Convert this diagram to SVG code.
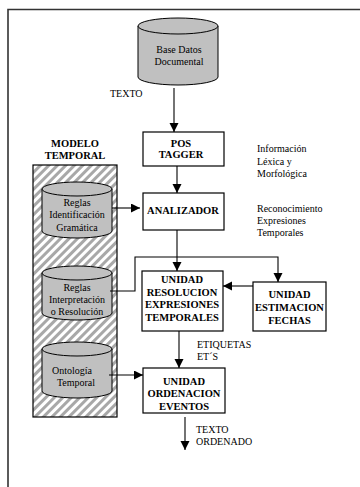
<svg xmlns="http://www.w3.org/2000/svg" width="360" height="487" viewBox="0 0 360 487">
<style>
text{font-family:"Liberation Serif","Times New Roman",serif;font-size:10px;fill:#000}
.b{font-weight:bold;font-size:10.5px}
.m{text-anchor:middle}
.box{fill:#fff;stroke:#000;stroke-width:1.2}
.cyl{fill:#c0c0c0;stroke:#000;stroke-width:1}
.con{fill:none;stroke:#000;stroke-width:1.1}
</style>
<defs>
<marker id="ah" markerUnits="userSpaceOnUse" markerWidth="10" markerHeight="10" refX="9" refY="4.5" orient="auto">
<path d="M0,0 L9,4.5 L0,9 Z" fill="#000"/>
</marker>
<pattern id="hatch" patternUnits="userSpaceOnUse" width="6" height="6" patternTransform="rotate(45)">
<rect width="6" height="6" fill="#fff"/>
<line x1="1.5" y1="0" x2="1.5" y2="6" stroke="#a8a8a8" stroke-width="3"/>
</pattern>
</defs>
<path d="M8,487 V9.5 H360" fill="none" stroke="#333" stroke-width="1.6"/>

<g id="modelo">
<rect x="33" y="165" width="84" height="252" fill="url(#hatch)" stroke="#000" stroke-width="1.2"/>
<text class="b m" x="75" y="147">MODELO</text>
<text class="b m" x="75" y="159">TEMPORAL</text>
</g>

<g id="base-datos">
<path class="cyl" d="M138,26 V77 A40,8 0 0 0 218,77 V26"/>
<ellipse class="cyl" cx="178" cy="26" rx="40" ry="8"/>
<text class="m" x="179" y="53">Base Datos</text>
<text class="m" x="179" y="65">Documental</text>
</g>

<g id="reglas-identificacion">
<path class="cyl" d="M42,189 V231 A35,7 0 0 0 112,231 V189"/>
<ellipse class="cyl" cx="77" cy="189" rx="35" ry="7"/>
<text class="m" x="77" y="206">Reglas</text>
<text class="m" x="77" y="218">Identificación</text>
<text class="m" x="77" y="231">Gramática</text>
</g>

<g id="reglas-interpretacion">
<path class="cyl" d="M42,273 V313 A35,7 0 0 0 112,313 V273"/>
<ellipse class="cyl" cx="77" cy="273" rx="35" ry="7"/>
<text class="m" x="77" y="291">Reglas</text>
<text class="m" x="77" y="303">Interpretación</text>
<text class="m" x="77" y="315">o Resolución</text>
</g>

<g id="ontologia">
<path class="cyl" d="M42,349 V391 A35,7 0 0 0 112,391 V349"/>
<ellipse class="cyl" cx="77" cy="349" rx="35" ry="7"/>
<text class="m" x="72" y="374">Ontología</text>
<text class="m" x="76" y="386">Temporal</text>
</g>

<g id="pos-tagger">
<rect class="box" x="143" y="132" width="81" height="34"/>
<text class="b m" x="181" y="147">POS</text>
<text class="b m" x="181" y="158">TAGGER</text>
</g>

<g id="analizador">
<rect class="box" x="143" y="193" width="81" height="37"/>
<text class="b m" x="183" y="214">ANALIZADOR</text>
</g>

<g id="resolucion">
<rect class="box" x="142" y="271" width="81" height="60"/>
<text class="b m" x="182" y="283">UNIDAD</text>
<text class="b m" x="182" y="296">RESOLUCION</text>
<text class="b m" x="182" y="308">EXPRESIONES</text>
<text class="b m" x="182" y="321">TEMPORALES</text>
</g>

<g id="estimacion">
<rect class="box" x="253" y="282" width="73" height="49"/>
<text class="b m" x="289.5" y="298">UNIDAD</text>
<text class="b m" x="289.5" y="311">ESTIMACION</text>
<text class="b m" x="289.5" y="324">FECHAS</text>
</g>

<g id="ordenacion">
<rect class="box" x="143" y="368" width="82" height="45"/>
<text class="b m" x="184" y="385">UNIDAD</text>
<text class="b m" x="184" y="397">ORDENACION</text>
<text class="b m" x="184" y="410">EVENTOS</text>
</g>

<g id="labels">
<text x="110" y="97">TEXTO</text>
<text x="257" y="152">Información</text>
<text x="257" y="165">Léxica y</text>
<text x="257" y="177">Morfológica</text>
<text x="257" y="212">Reconocimiento</text>
<text x="257" y="224">Expresiones</text>
<text x="257" y="236">Temporales</text>
<text x="197" y="348">ETIQUETAS</text>
<text x="197" y="360">ET´S</text>
<text x="196" y="433">TEXTO</text>
<text x="196" y="445">ORDENADO</text>
</g>

<g id="connectors">
<line class="con" x1="174" y1="88" x2="174" y2="132" marker-end="url(#ah)"/>
<line class="con" x1="177" y1="166" x2="177" y2="193" marker-end="url(#ah)"/>
<line class="con" x1="112" y1="208" x2="140" y2="208" marker-end="url(#ah)"/>
<line class="con" x1="177" y1="230" x2="177" y2="271" marker-end="url(#ah)"/>
<polyline class="con" points="110,291 135,291 135,257 278,257 278,282" marker-end="url(#ah)"/>
<line class="con" x1="253" y1="286" x2="223" y2="286" marker-end="url(#ah)"/>
<line class="con" x1="179" y1="331" x2="179" y2="368" marker-end="url(#ah)"/>
<line class="con" x1="109" y1="375" x2="143" y2="375" marker-end="url(#ah)"/>
<line class="con" x1="185" y1="417" x2="185" y2="450" marker-end="url(#ah)"/>
</g>
</svg>
